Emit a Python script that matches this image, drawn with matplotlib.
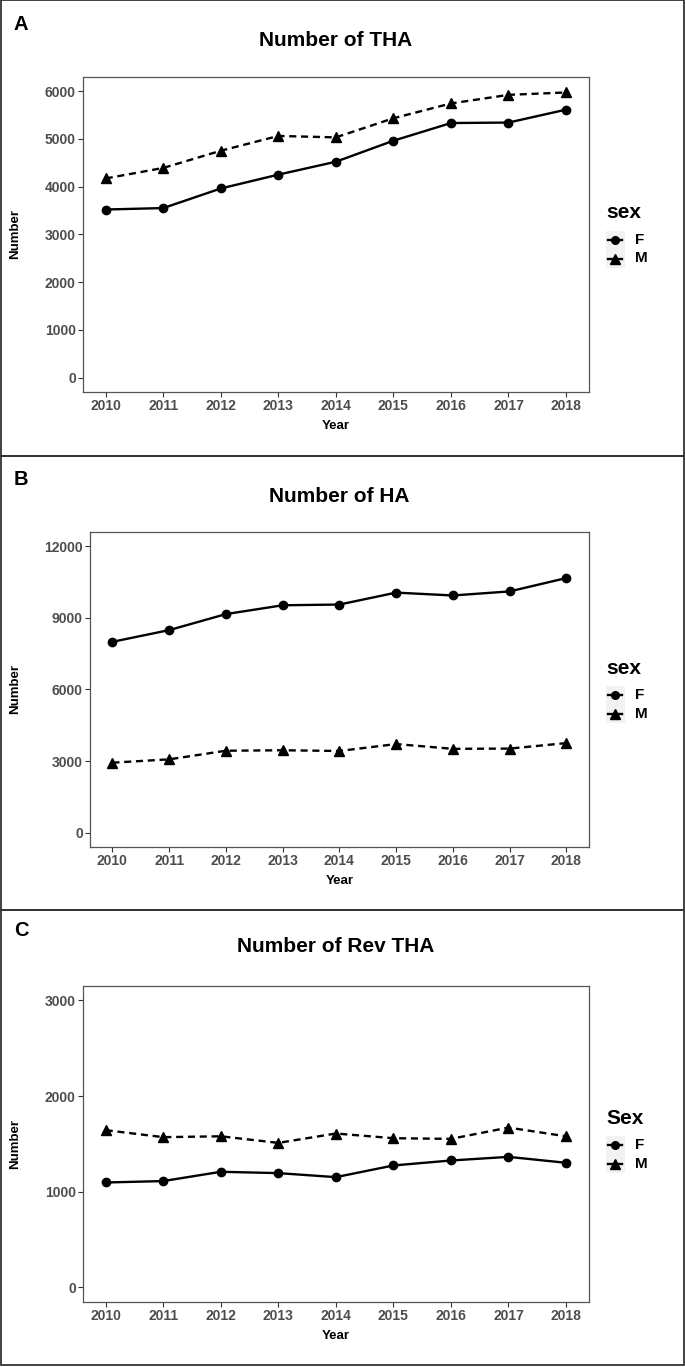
import matplotlib
matplotlib.use("Agg")
import matplotlib.pyplot as plt
from matplotlib.patches import Rectangle
from matplotlib.lines import Line2D

plt.rcParams['font.family'] = ['Liberation Sans', 'DejaVu Sans']

years = [2010, 2011, 2012, 2013, 2014, 2015, 2016, 2017, 2018]

tha_f = [3520, 3550, 3960, 4250, 4520, 4960, 5330, 5340, 5610]
tha_m = [4170, 4390, 4750, 5060, 5030, 5430, 5740, 5920, 5970]
ha_f = [7990, 8480, 9150, 9520, 9550, 10050, 9930, 10100, 10660]
ha_m = [2930, 3070, 3430, 3450, 3420, 3710, 3510, 3520, 3750]
rev_f = [1096, 1111, 1208, 1194, 1152, 1274, 1326, 1364, 1302]
rev_m = [1643, 1570, 1579, 1510, 1608, 1559, 1552, 1670, 1579]

sex_levels = ['F', 'M']

W, H = 685, 1367
fig = plt.figure(figsize=(W / 100, H / 100), dpi=100)


def fx(px):
    return px / W


def fy(py):
    return 1 - py / H


def panel(letter, title, f_vals, m_vals, yticks, ylim, legend_title,
          frame_top, frame_bot, off, ax_left, ax_top, ax_bot):
    # outer frame of the panel
    fig.patches.append(Rectangle((fx(1), fy(frame_bot)), fx(683), (frame_bot - frame_top) / H,
                                 transform=fig.transFigure, fill=False,
                                 edgecolor='#333333', lw=1.3))
    ax = fig.add_axes([fx(ax_left), fy(ax_bot), fx(589 - ax_left), (ax_bot - ax_top) / H])
    ax.plot(years, f_vals, color='black', lw=1.7, marker='o', ms=6)
    ax.plot(years, m_vals, color='black', lw=1.7, ls=(0, (3, 2)), marker='^', ms=7.5)
    ax.set_xlim(2009.6, 2018.4)
    ax.set_ylim(*ylim)
    ax.set_xticks(years)
    ax.set_yticks(yticks)
    for sp in ax.spines.values():
        sp.set_color('#555555')
        sp.set_linewidth(0.9)
    ax.tick_params(length=3.5, width=0.8, color='#333333', labelcolor='#4D4D4D',
                   labelsize=10, pad=1.5)
    for lab in ax.get_xticklabels() + ax.get_yticklabels():
        lab.set_fontweight('bold')
    ax.set_xlabel('Year', fontsize=9.5, fontweight='bold', labelpad=5)
    ax.set_ylabel('Number', fontsize=9.5, fontweight='bold')
    ax.yaxis.set_label_coords((21 - ax_left) / (589 - ax_left), 0.5)

    fig.text(fx(21), fy(off + 25), letter, fontsize=14.5, fontweight='bold',
             ha='center', va='center')
    fig.text(fx((ax_left + 589) / 2), fy(off + 41), title, fontsize=15,
             fontweight='bold', ha='center', va='center')

    # legend drawn by hand (ggplot style key with grey background)
    leg_top = off + 231
    fig.text(fx(606), fy(off + 213), legend_title, fontsize=15, fontweight='bold',
             ha='left', va='center')
    fig.patches.append(Rectangle((fx(606), fy(leg_top + 37)), fx(18.5), 37 / H,
                                 transform=fig.transFigure, facecolor='#F2F2F2',
                                 edgecolor='none'))
    markers = [('o', 5.5), ('^', 6.5)]
    for i, lvl in enumerate(sex_levels):
        yy = fy(leg_top + 9 + i * 18.5)
        mk, ms = markers[i]
        fig.add_artist(Line2D([fx(608), fx(622)], [yy, yy], transform=fig.transFigure,
                              color='black', lw=1.7, ls='-'))
        fig.add_artist(Line2D([fx(615)], [yy], transform=fig.transFigure,
                              color='black', marker=mk, ms=ms, ls='none'))
        fig.text(fx(635), yy, lvl, fontsize=11, fontweight='bold', ha='left', va='center')
    return ax


panel('A', 'Number of THA', tha_f, tha_m, [0, 1000, 2000, 3000, 4000, 5000, 6000],
      (-300, 6300), 'sex', 0, 456, 0, 82.7, 76.7, 392)
panel('B', 'Number of HA', ha_f, ha_m, [0, 3000, 6000, 9000, 12000],
      (-600, 12600), 'sex', 456, 910, 455, 89.7, 531.7, 847)
panel('C', 'Number of Rev THA', rev_f, rev_m, [0, 1000, 2000, 3000],
      (-150, 3150), 'Sex', 910, 1365, 905, 82.7, 986, 1301.7)

fig.savefig('out.png', dpi=100, facecolor='white')
